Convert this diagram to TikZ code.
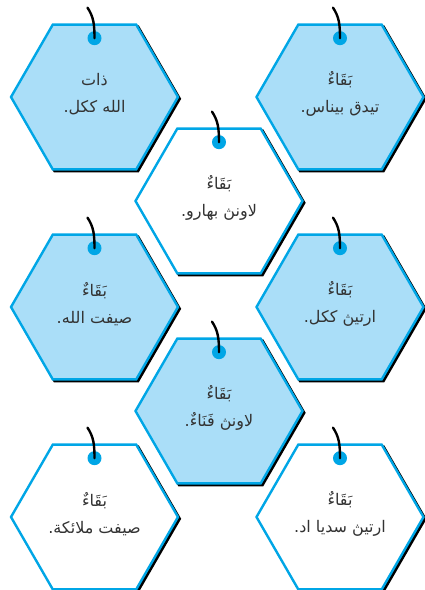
\documentclass[tikz,border=0pt]{standalone}
\usepackage{fontspec}
\usepackage{tikz}
\usetikzlibrary{shapes.geometric,shadows}
\TeXXeTstate=1
\newfontfamily\arabicfont[Script=Arabic]{DejaVu Sans}
\definecolor{hexblue}{RGB}{170,222,248}
\definecolor{hexline}{RGB}{0,166,230}

\begin{document}
\begin{tikzpicture}[x=1pt,y=1pt,
    hexcard/.style={regular polygon, regular polygon sides=6, minimum size=167pt,
        inner sep=0pt, outer sep=0pt, draw=hexline, line width=2.4pt,
        drop shadow={shadow xshift=1.8pt, shadow yshift=-1.8pt, fill=black, draw=black, opacity=1}},
    bluecard/.style={hexcard, fill=hexblue},
    whitecard/.style={hexcard, fill=white},
    tagdot/.style={circle, fill=hexline, minimum size=14pt, inner sep=0pt},
    tagstring/.style={line width=2.4pt, line cap=round},
    cardtext/.style={align=center, font=\arabicfont\fontsize{16}{27}\selectfont, text=black!80}]

    \path[use as bounding box] (0,0) rectangle (424,590);

    % top row
    \node[bluecard] (zat) at (94.5,493) {};
    \node[bluecard] (tidak-binasa) at (340,493) {};

    % second row
    \node[whitecard] (lawan-baharu) at (219,389) {};

    % third row
    \node[bluecard] (sifat-allah) at (94.5,283) {};
    \node[bluecard] (erti-kekal) at (340,283) {};

    % fourth row
    \node[bluecard] (lawan-fana) at (219,179) {};

    % bottom row
    \node[whitecard] (sifat-malaikat) at (94.5,73) {};
    \node[whitecard] (erti-sedia-ada) at (340,73) {};

    % texts
    \node[cardtext] (zat-t) at ([yshift=3pt]zat.center) {\beginR ذات\endR\\ \beginR الله ككل.\endR};
    \node[cardtext] (tidak-binasa-t) at ([yshift=3pt]tidak-binasa.center) {\beginR بَقَاءٌ\endR\\ \beginR تيدق بيناس.\endR};
    \node[cardtext] (lawan-baharu-t) at ([yshift=3pt]lawan-baharu.center) {\beginR بَقَاءٌ\endR\\ \beginR لاونڽ بهارو.\endR};
    \node[cardtext] (sifat-allah-t) at ([yshift=3pt]sifat-allah.center) {\beginR بَقَاءٌ\endR\\ \beginR صيفت الله.\endR};
    \node[cardtext] (erti-kekal-t) at ([yshift=3pt]erti-kekal.center) {\beginR بَقَاءٌ\endR\\ \beginR ارتيڽ ككل.\endR};
    \node[cardtext] (lawan-fana-t) at ([yshift=3pt]lawan-fana.center) {\beginR بَقَاءٌ\endR\\ \beginR لاونڽ فَنَاءٌ.\endR};
    \node[cardtext] (sifat-malaikat-t) at ([yshift=3pt]sifat-malaikat.center) {\beginR بَقَاءٌ\endR\\ \beginR صيفت ملائكة.\endR};
    \node[cardtext] (erti-sedia-ada-t) at ([yshift=3pt]erti-sedia-ada.center) {\beginR بَقَاءٌ\endR\\ \beginR ارتيڽ سديا اد.\endR};

    % tags
    \node[tagdot] (zat-dot) at ([yshift=-13.5pt]zat.north) {};
    \coordinate (zat-end) at ([xshift=-7pt,yshift=17pt]zat.north);
    \draw[tagstring] (zat-end) .. controls +(6pt,-9pt) and +(0pt,14pt) .. (zat-dot.center);

    \node[tagdot] (tidak-binasa-dot) at ([yshift=-13.5pt]tidak-binasa.north) {};
    \coordinate (tidak-binasa-end) at ([xshift=-7pt,yshift=17pt]tidak-binasa.north);
    \draw[tagstring] (tidak-binasa-end) .. controls +(6pt,-9pt) and +(0pt,14pt) .. (tidak-binasa-dot.center);

    \node[tagdot] (lawan-baharu-dot) at ([yshift=-13.5pt]lawan-baharu.north) {};
    \coordinate (lawan-baharu-end) at ([xshift=-7pt,yshift=17pt]lawan-baharu.north);
    \draw[tagstring] (lawan-baharu-end) .. controls +(6pt,-9pt) and +(0pt,14pt) .. (lawan-baharu-dot.center);

    \node[tagdot] (sifat-allah-dot) at ([yshift=-13.5pt]sifat-allah.north) {};
    \coordinate (sifat-allah-end) at ([xshift=-7pt,yshift=17pt]sifat-allah.north);
    \draw[tagstring] (sifat-allah-end) .. controls +(6pt,-9pt) and +(0pt,14pt) .. (sifat-allah-dot.center);

    \node[tagdot] (erti-kekal-dot) at ([yshift=-13.5pt]erti-kekal.north) {};
    \coordinate (erti-kekal-end) at ([xshift=-7pt,yshift=17pt]erti-kekal.north);
    \draw[tagstring] (erti-kekal-end) .. controls +(6pt,-9pt) and +(0pt,14pt) .. (erti-kekal-dot.center);

    \node[tagdot] (lawan-fana-dot) at ([yshift=-13.5pt]lawan-fana.north) {};
    \coordinate (lawan-fana-end) at ([xshift=-7pt,yshift=17pt]lawan-fana.north);
    \draw[tagstring] (lawan-fana-end) .. controls +(6pt,-9pt) and +(0pt,14pt) .. (lawan-fana-dot.center);

    \node[tagdot] (sifat-malaikat-dot) at ([yshift=-13.5pt]sifat-malaikat.north) {};
    \coordinate (sifat-malaikat-end) at ([xshift=-7pt,yshift=17pt]sifat-malaikat.north);
    \draw[tagstring] (sifat-malaikat-end) .. controls +(6pt,-9pt) and +(0pt,14pt) .. (sifat-malaikat-dot.center);

    \node[tagdot] (erti-sedia-ada-dot) at ([yshift=-13.5pt]erti-sedia-ada.north) {};
    \coordinate (erti-sedia-ada-end) at ([xshift=-7pt,yshift=17pt]erti-sedia-ada.north);
    \draw[tagstring] (erti-sedia-ada-end) .. controls +(6pt,-9pt) and +(0pt,14pt) .. (erti-sedia-ada-dot.center);

\end{tikzpicture}
\end{document}
